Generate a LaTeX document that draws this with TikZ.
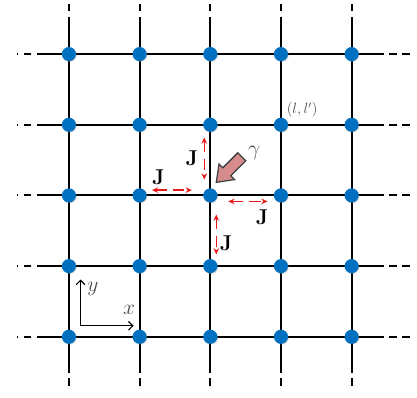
\documentclass[tikz,border=0pt]{standalone}
\usepackage{tikz}
\usetikzlibrary{arrows.meta,shadows}

\definecolor{siteblue}{RGB}{0,112,192}
\definecolor{hopred}{RGB}{235,25,25}
\definecolor{photonpink}{RGB}{214,140,140}

\begin{document}
\begin{tikzpicture}[
    bond/.style={line width=1.5pt},
    site/.style={circle,fill=siteblue,inner sep=0pt,minimum size=0.4cm,
      drop shadow={shadow xshift=0.6pt,shadow yshift=-0.6pt,opacity=0.35}},
    hop/.style={hopred,line width=1.2pt,dash pattern=on 9pt off 5pt,
      {Stealth[length=5pt,width=4.5pt]}-{Stealth[length=5pt,width=4.5pt]}},
    loose/.style={line width=1.5pt,dash pattern=on 6pt off 4.5pt},
    jlabel/.style={font=\fontsize{16}{18}\selectfont},
    biglabel/.style={font=\fontsize{19}{22}\selectfont,text=black!70}]
  \useasboundingbox (-1.95,-1.73) rectangle (9.85,9.53);

  \foreach \i in {0,...,4}
    \foreach \j in {0,...,4}
      \coordinate (p-\i-\j) at (2*\i,2*\j);

  \foreach \k in {0,...,4} {
    \coordinate (w-\k) at (-0.7,2*\k);  \coordinate (ww-\k) at (-1.47,2*\k);
    \coordinate (e-\k) at (8.7,2*\k);   \coordinate (ee-\k) at (9.65,2*\k);
    \coordinate (s-\k) at (2*\k,-0.8);  \coordinate (ss-\k) at (2*\k,-1.5);
    \coordinate (n-\k) at (2*\k,8.85);  \coordinate (nn-\k) at (2*\k,9.53);
    \draw[bond] (p-0-\k) -- (p-4-\k);
    \draw[bond] (p-\k-0) -- (p-\k-4);
    \draw[bond] (p-0-\k) -- (w-\k);  \draw[loose] (w-\k) -- (ww-\k);
    \draw[bond] (p-4-\k) -- (e-\k);  \draw[loose] (e-\k) -- (ee-\k);
    \draw[bond] (p-\k-0) -- (s-\k);  \draw[loose] (s-\k) -- (ss-\k);
    \draw[bond] (p-\k-4) -- (n-\k);  \draw[loose] (n-\k) -- (nn-\k);
  }

  \foreach \i in {0,...,4}
    \foreach \j in {0,...,4}
      \node[site] (site-\i-\j) at (p-\i-\j) {};

  % hopping J around the central site
  \coordinate (hu1) at (3.83,5.64); \coordinate (hu2) at (3.83,4.45);
  \coordinate (hl1) at (2.35,4.15); \coordinate (hl2) at (3.48,4.15);
  \coordinate (hr1) at (4.51,3.83); \coordinate (hr2) at (5.62,3.83);
  \coordinate (hd1) at (4.17,3.46); \coordinate (hd2) at (4.17,2.33);
  \draw[hop] (hu1) -- (hu2);
  \draw[hop] (hl1) -- (hl2);
  \draw[hop] (hr1) -- (hr2);
  \draw[hop] (hd1) -- (hd2);
  \node[jlabel] (ju) at (3.48,5.05) {$\mathbf{J}$};
  \node[jlabel] (jl) at (2.53,4.51) {$\mathbf{J}$};
  \node[jlabel] (jr) at (5.47,3.38) {$\mathbf{J}$};
  \node[jlabel] (jd) at (4.45,2.64) {$\mathbf{J}$};

  % incoming photon
  \draw[draw=black!75,fill=photonpink,line width=1pt,line join=miter,
      shift={(4.17,4.37)},rotate=45]
    (0,0) -- (0.42,0.31) -- (0.42,0.16) -- (1.02,0.16)
    -- (1.02,-0.16) -- (0.42,-0.16) -- (0.42,-0.31) -- cycle;
  \node[biglabel] (gamma) at (5.24,5.2) {$\gamma$};
  \node[text=black!70,font=\large] (site-label) at (6.6,6.42) {$(l,l')$};

  % axes
  \coordinate (o) at (0.33,0.31);
  \coordinate (ox) at (1.83,0.31);
  \coordinate (oy) at (0.33,1.62);
  \draw[line width=0.9pt,-{Straight Barb[length=3.5pt]}] (o) -- (ox);
  \draw[line width=0.9pt,-{Straight Barb[length=3.5pt]}] (o) -- (oy);
  \node[biglabel] (xlab) at (1.7,0.75) {$x$};
  \node[biglabel] (ylab) at (0.68,1.36) {$y$};
\end{tikzpicture}
\end{document}
